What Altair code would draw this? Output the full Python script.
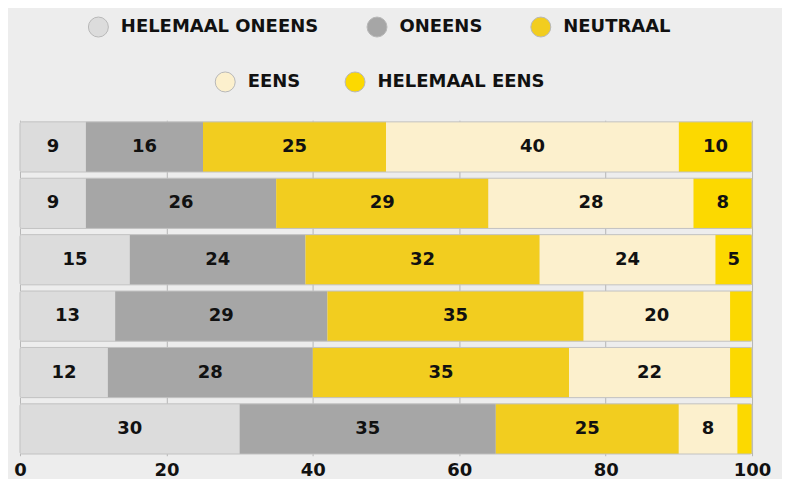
import altair as alt
import pandas as pd

categories = ["HELEMAAL ONEENS", "ONEENS", "NEUTRAAL", "EENS", "HELEMAAL EENS"]
colors = ["#dcdcdc", "#a6a6a6", "#f2cd1f", "#fcf0cd", "#fcd900"]
rows = [1, 2, 3, 4, 5, 6]
helemaal_oneens = [9, 9, 15, 13, 12, 30]
oneens = [16, 26, 24, 29, 28, 35]
neutraal = [25, 29, 32, 35, 35, 25]
eens = [40, 28, 24, 20, 22, 8]
helemaal_eens = [10, 8, 5, 3, 3, 2]
x_ticks = [0, 20, 40, 60, 80, 100]

series = [helemaal_oneens, oneens, neutraal, eens, helemaal_eens]
records = []
for ci, (cat, vals) in enumerate(zip(categories, series)):
    for r, v in zip(rows, vals):
        records.append({"row": r, "category": cat, "rank": ci, "value": v})
df = pd.DataFrame(records)

FONT = "DejaVu Sans"
W = 733
H = 336

y_enc = alt.Y("row:O", axis=None, sort=rows,
              scale=alt.Scale(paddingInner=0.11, paddingOuter=0.03))
x_scale = alt.Scale(domain=[0, 100], nice=False)

base = alt.Chart(df).transform_stack(
    stack="value", groupby=["row"], sort=[alt.SortField("rank", order="ascending")],
    as_=["x0", "x1"],
)

def legend(x, y, pad):
    return alt.Legend(
        title=None, orient="none", legendX=x, legendY=y, direction="horizontal",
        symbolType="circle", symbolSize=400, symbolStrokeColor="#b8b8b8",
        symbolStrokeWidth=1, labelFont=FONT, labelFontSize=18, labelFontWeight="bold",
        labelColor="#111111", labelOffset=12, columnPadding=pad, symbolOpacity=1,
        labelLimit=400,
    )

bars1 = base.transform_filter("datum.rank < 3").mark_bar().encode(
    x=alt.X("x0:Q", scale=x_scale,
            axis=alt.Axis(values=x_ticks, title=None, grid=True, gridColor="#b5b5b5",
                          gridWidth=1, ticks=False, domain=False, labelFlush=False,
                          labelFont=FONT, labelFontSize=18, labelFontWeight="bold",
                          labelColor="#111111", labelPadding=6)),
    x2="x1:Q",
    y=y_enc,
    color=alt.Color("category:N",
                    scale=alt.Scale(domain=categories[:3], range=colors[:3]),
                    legend=legend(68, -104, 46)),
)

bars2 = base.transform_filter("datum.rank >= 3").mark_bar().encode(
    x=alt.X("x0:Q", scale=x_scale),
    x2="x1:Q",
    y=y_enc,
    color=alt.Color("category:N",
                    scale=alt.Scale(domain=categories[3:], range=colors[3:]),
                    legend=legend(195, -49, 42)),
)

outline = alt.Chart(df).mark_bar(filled=False, stroke="#c2c2c2", strokeWidth=1,
                                 cornerRadius=2).encode(
    x=alt.X("sum(value):Q", scale=x_scale),
    y=y_enc,
)

labels = base.transform_filter("datum.value >= 5").transform_calculate(
    mid="(datum.x0 + datum.x1) / 2"
).mark_text(font=FONT, fontSize=18, fontWeight="bold", color="#111111").encode(
    x=alt.X("mid:Q", scale=x_scale),
    y=y_enc,
    text="value:Q",
)

chart = alt.layer(bars1, bars2, outline, labels).resolve_scale(
    color="independent"
).properties(
    width=W, height=H,
    autosize=alt.AutoSizeParams(type="none"),
    padding={"left": 12, "top": 112, "right": 30, "bottom": 23},
    background="#ededed",
).configure_view(stroke=None)

chart.save("out.html", embed_options={"renderer": "svg", "actions": False})
